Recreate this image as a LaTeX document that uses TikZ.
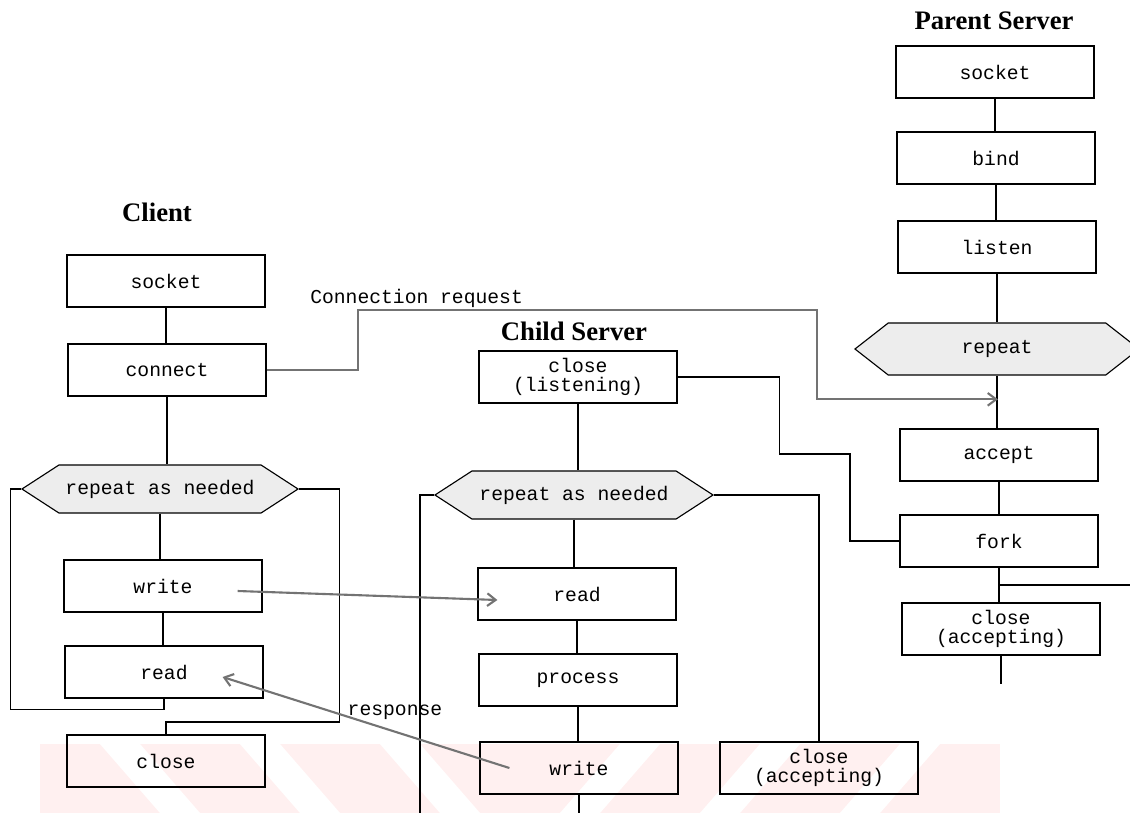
\documentclass[tikz,border=0pt]{standalone}
\usepackage{fontspec}
\setmainfont{Liberation Serif}
\setmonofont{Liberation Mono}
\usetikzlibrary{arrows.meta,shapes.symbols,calc}

\begin{document}
\begin{tikzpicture}[x=0.025cm,y=-0.025cm,line width=0.8pt,
  box/.style={draw,minimum width=4.95cm,minimum height=1.3cm,inner sep=0pt,
    align=center,font=\ttfamily\fontsize{14}{14}\selectfont},
  hexa/.style={draw,fill=gray!14,shape=signal,signal to=west and east,
    signal pointer angle=66,minimum height=1.2cm,inner sep=0pt,
    font=\ttfamily\fontsize{14}{14}\selectfont},
  ttl/.style={font=\bfseries\fontsize{19}{19}\selectfont},
  lbl/.style={font=\ttfamily\fontsize{14}{14}\selectfont},
  msg/.style={black!55,line width=1.5pt,-{Straight Barb[length=6pt,width=9pt]}}]
\useasboundingbox (0,0) rectangle (1130,813);

% pink band at the bottom
\fill[red!6] (40,744) rectangle (1000,813);
\foreach \x in {100,240,380} \fill[white] (\x,744) -- (\x+40,744) -- (\x+100,813) -- (\x+60,813) -- cycle;
\foreach \x in {620,760,900} \fill[white] (\x,744) -- (\x+40,744) -- (\x-20,813) -- (\x-60,813) -- cycle;

% titles
\node[ttl] (cTitle) at (157,212) {Client};
\node[ttl] (kTitle) at (574,331) {Child Server};
\node[ttl] (pTitle) at (994,21) {Parent Server};

% client
\node[box] (cSocket) at (166,281) {socket};
\node[box] (cConnect) at (167,370) {connect};
\node[hexa,minimum width=6.9cm] (cRepeat) at (160,489) {repeat as needed};
\node[box] (cWrite) at (163,586) {write};
\node[box] (cRead) at (164,672) {read};
\node[box] (cClose) at (166,761) {close};

% child server
\node[box] (kClose) at (578,377) {close\\(listening)};
\node[hexa,minimum width=6.95cm] (kRepeat) at (574,495) {repeat as needed};
\node[box] (kRead) at (577,594) {read};
\node[box] (kProcess) at (578,680) {process};
\node[box] (kWrite) at (579,768) {write};
\node[box] (kCloseAcc) at (819,768) {close\\(accepting)};

% parent server
\node[box] (pSocket) at (995,72) {socket};
\node[box] (pBind) at (996,158) {bind};
\node[box] (pListen) at (997,247) {listen};
\node[hexa,signal pointer angle=76,minimum width=7.1cm,minimum height=1.3cm] (pRepeat) at (997,349) {repeat};
\node[box] (pAccept) at (999,455) {accept};
\node[box] (pFork) at (999,541) {fork};
\node[box] (pClose) at (1001,629) {close\\(accepting)};

% client flow
\draw (cSocket.south) -- (cSocket.south |- cConnect.north);
\draw (cConnect.south) -- (cConnect.south |- cRepeat.north);
\draw (cRepeat.south) -- (cRepeat.south |- cWrite.north);
\draw (cWrite.south) -- (cWrite.south |- cRead.north);
\draw (cRead.south) -- ++(0,11) -| ($(cRepeat.west)+(-10,0)$) -- (cRepeat.west);
\draw (cRepeat.east) -| ++(40,233) -| (cClose.north);

% child flow
\draw (kClose.south) -- (kClose.south |- kRepeat.north);
\draw (kRepeat.south) -- (kRepeat.south |- kRead.north);
\draw (kRead.south) -- (kRead.south |- kProcess.north);
\draw (kProcess.south) -- (kProcess.south |- kWrite.north);
\draw (kWrite.south) -- ++(0,30);
\draw (kRepeat.west) -- ++(-14,0) -- ++(0,330);
\draw (kRepeat.east) -| (kCloseAcc.north);
\draw (kClose.east) -- ++(102,0) |- (850,454) |- (pFork.west);

% parent flow
\draw (pSocket.south) -- (pSocket.south |- pBind.north);
\draw (pBind.south) -- (pBind.south |- pListen.north);
\draw (pListen.south) -- (pListen.south |- pRepeat.north);
\draw (pRepeat.south) -- (pRepeat.south |- pAccept.north);
\draw (pAccept.south) -- (pAccept.south |- pFork.north);
\draw (pFork.south) -- (pFork.south |- pClose.north);
\coordinate (pIn) at ($(pRepeat.south)!.45!(pAccept.north)$);
\coordinate (pBranch) at ($(pFork.south)!.5!(pClose.north)$);
\draw (pBranch) -- ++(140,0);
\draw (pClose.south) -- ++(0,28);

% messages
\draw[msg] (cConnect.east) -- ++(91,0) |- (817,310) |- (pIn);
\node[lbl,anchor=base west] (reqLbl) at (305,303) {Connection request};
\draw[msg] ($(cWrite.east)+(-25,5)$) -- ($(kRead.west)+(20,6)$);
\draw[msg] ($(kWrite.west)+(30,0)$) -- ($(cRead.east)+(-41,5)$);
\node[lbl] (respLbl) at (395,712) {response};

\end{tikzpicture}
\end{document}
